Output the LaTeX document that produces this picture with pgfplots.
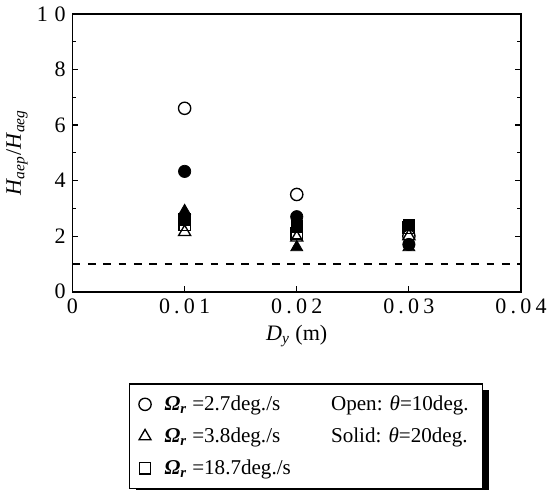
\documentclass[border=0pt]{standalone}
\usepackage{fontspec}
\setmainfont{Liberation Serif}
\usepackage{pgfplots}
\pgfplotsset{compat=1.18}
\usetikzlibrary{shadows}
\newcommand{\Om}{{\bfseries\itshape Ω}\textsubscript{\bfseries\itshape r}}
\newcommand{\s}{\kern2.2pt}
\begin{document}
\begin{tikzpicture}
\begin{axis}[
  scale only axis,
  width=234pt, height=145pt,
  xmin=0, xmax=0.04, ymin=0, ymax=10,
  scaled x ticks=false,
  xtick={0,0.01,0.02,0.03,0.04},
  xticklabels={0, 0\s.\s0\s1, 0\s.\s0\s2, 0\s.\s0\s3, 0\s.\s0\s4},
  ytick={0,2,4,6,8,10},
  yticklabels={0,2,4,6,8,1\kern3.5pt0},
  minor ytick={1,3,5,7,9},
  xtick pos=bottom, ytick pos=both,
  tick align=inside,
  major tick length=3pt, minor tick length=2pt,
  /pgf/number format/assume math mode=true,
  tick label style={font=\fontsize{11.5}{14}\selectfont},
  xlabel={\textit{D}\textsubscript{\textit{y}} (m)},
  ylabel={\textit{H}\textsubscript{\textit{aep}}/\textit{H}\textsubscript{\textit{aeg}}},
  label style={font=\fontsize{11.5}{13}\selectfont},
  xlabel style={yshift=1pt},
  ylabel style={yshift=-2pt},
  axis line style={line width=0.8pt},
  every tick/.style={black, line width=0.6pt},
  legend columns=2,
  legend cell align=left,
  legend style={at={(0.52,-0.33)}, anchor=north, draw=black, line width=0.6pt,
    font=\fontsize{11}{13}\selectfont, row sep=3.5pt, inner xsep=5pt, inner ysep=4pt,
    fill=white,
    drop shadow={shadow xshift=3.5pt, shadow yshift=-3pt, fill=black, opacity=1},
    /tikz/every odd column/.append style={column sep=5pt},
    /tikz/every even column/.append style={column sep=12pt}},
]
\addplot[black, dashed, dash pattern=on 4pt off 4pt, line width=0.6pt, forget plot] coordinates {(0,1) (0.04,1)};
% open markers (theta = 10 deg)
\addplot[only marks, mark=o, mark size=3.2pt, black, line width=0.7pt, forget plot] coordinates {(0.01,6.6) (0.02,3.5) (0.03,2.0)};
\addplot[only marks, mark=square, mark size=3pt, black, line width=0.7pt, forget plot] coordinates {(0.01,2.4) (0.02,2.1) (0.03,2.3)};
\addplot[only marks, mark=triangle, mark size=3.6pt, black, line width=0.7pt, forget plot] coordinates {(0.01,2.15) (0.02,1.95) (0.03,2.0)};
% solid markers (theta = 20 deg)
\addplot[only marks, mark=*, mark size=3.2pt, black, forget plot] coordinates {(0.01,4.33) (0.02,2.7) (0.03,1.7)};
\addplot[only marks, mark=square*, mark size=3pt, black, forget plot] coordinates {(0.01,2.6) (0.02,2.35) (0.03,2.4)};
\addplot[only marks, mark=triangle*, mark size=3.6pt, black, forget plot] coordinates {(0.01,2.9) (0.02,1.6) (0.03,1.6)};
% legend
\addlegendimage{only marks, mark=o, mark size=3.2pt, black, line width=0.7pt}
\addlegendentry{\Om\ =2.7deg./s}
\addlegendimage{empty legend}
\addlegendentry{Open: \textit{θ}=10deg.\hspace{10pt}}
\addlegendimage{only marks, mark=triangle, mark size=3.6pt, black, line width=0.7pt}
\addlegendentry{\Om\ =3.8deg./s}
\addlegendimage{empty legend}
\addlegendentry{Solid: \textit{θ}=20deg.\hspace{10pt}}
\addlegendimage{only marks, mark=square, mark size=3pt, black, line width=0.7pt}
\addlegendentry{\Om\ =18.7deg./s}
\end{axis}
\end{tikzpicture}
\end{document}
